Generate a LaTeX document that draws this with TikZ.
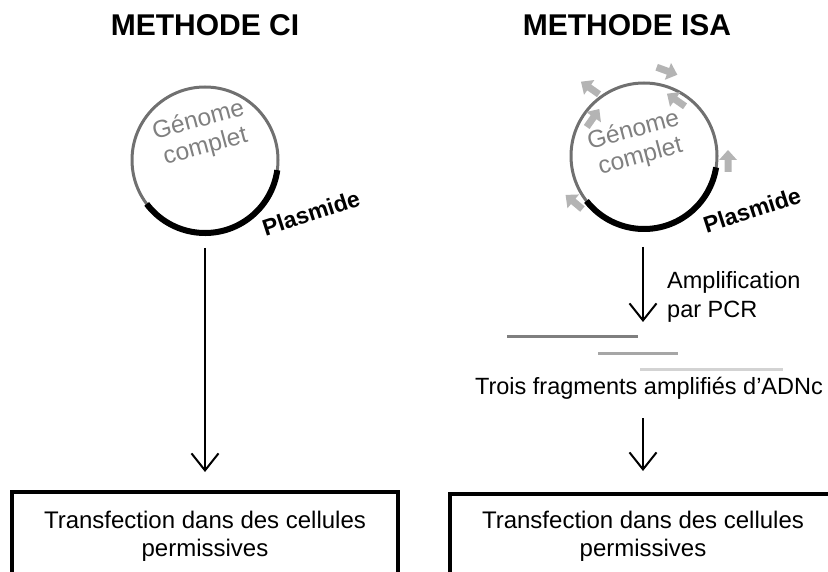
\documentclass[tikz,border=0pt]{standalone}
\usepackage{fontspec}
\setmainfont{Liberation Sans}
\usetikzlibrary{arrows.meta}
\definecolor{ringgray}{HTML}{707070}
\definecolor{txtgray}{HTML}{808080}
\definecolor{primer}{HTML}{B4B4B4}
\definecolor{fragA}{HTML}{7F7F7F}
\definecolor{fragB}{HTML}{A6A6A6}
\definecolor{fragC}{HTML}{D3D3D3}
\tikzset{
  title/.style={font=\fontsize{30}{32}\selectfont\bfseries},
  body/.style={font=\fontsize{23.5}{29}\selectfont, align=center, inner sep=0pt},
  genome/.style={font=\fontsize{24.5}{27}\selectfont, text=txtgray, align=center, inner sep=0pt, rotate=15},
  plasmid/.style={font=\fontsize{23}{25}\selectfont\bfseries, inner sep=0pt, rotate=18},
  ring/.style={circle, draw=ringgray, line width=3pt, minimum size=146pt, inner sep=0pt},
  plasarc/.style={line width=6pt, black},
  flow/.style={line width=2pt, -{Straight Barb[length=17pt,width=27pt,line width=2pt]}},
  transbox/.style={draw, line width=4pt, inner sep=0pt, font=\fontsize{24}{28}\selectfont, align=center},
  frag/.style={line width=3pt},
  primerarrow/.pic={\fill[primer] (-11,-3.5) -- (1,-3.5) -- (1,-9) -- (11,0) -- (1,9) -- (1,3.5) -- (-11,3.5) -- cycle;}
}
\begin{document}
\begin{tikzpicture}[x=1pt,y=1pt]
\clip (0,0) rectangle (828,-572);
\useasboundingbox (0,0) rectangle (828,-572);

% titles
\node[title] (t1) at (205,-25) {METHODE CI};
\node[title] (t2) at (627,-25) {METHODE ISA};

% left genome
\node[ring] (g1) at (205,-160) {};
\draw[plasarc] ([shift={(217:73pt)}]g1.center) arc[start angle=217, end angle=352, radius=73pt];
\node[genome] (gt1) at (202,-134) {Génome\\complet};
\node[plasmid] (p1) at (311,-213) {Plasmide};

% right genome
\node[ring] (g2) at (644,-156) {};
\draw[plasarc] ([shift={(218:73pt)}]g2.center) arc[start angle=218, end angle=351, radius=73pt];
\node[genome] (gt2) at (637,-144) {Génome\\complet};
\node[plasmid] (p2) at (752,-210) {Plasmide};

% primers
\pic[rotate=145] at (590,-88) {primerarrow};
\pic[rotate=55] at (593,-118) {primerarrow};
\pic[rotate=-20] at (667,-71) {primerarrow};
\pic[rotate=145] at (676,-100) {primerarrow};
\pic[rotate=90] at (728,-161) {primerarrow};
\pic[rotate=140] at (574,-202) {primerarrow};

% boxes
\node[transbox, minimum width=386pt, minimum height=88pt] (b1) at (205,-536) {Transfection dans des cellules\\permissives};
\node[transbox, minimum width=386pt, minimum height=84pt] (b2) at (643,-536) {Transfection dans des cellules\\permissives};

% left arrow
\draw[flow] (g1.south |- 0,-248) -- (g1.south |- 0,-472);

% right side
\coordinate (a1s) at (643,-247);
\coordinate (a1e) at (643,-322);
\draw[flow] (a1s) -- (a1e);
\node[body, anchor=west, align=left] (amp) at (667,-297) {Amplification\\par PCR};

\coordinate (f1a) at (507,-337); \coordinate (f1b) at (638,-337);
\coordinate (f2a) at (598,-353); \coordinate (f2b) at (678,-353);
\coordinate (f3a) at (640,-369); \coordinate (f3b) at (783,-369);
\draw[frag, fragA] (f1a) -- (f1b);
\draw[frag, fragB] (f2a) -- (f2b);
\draw[frag, fragC] (f3a) -- (f3b);

\node[body] (trois) at (649,-388) {Trois fragments amplifiés d’ADNc};
\coordinate (a2s) at (643,-418);
\coordinate (a2e) at (643,-471);
\draw[flow] (a2s) -- (a2e);
\end{tikzpicture}
\end{document}
